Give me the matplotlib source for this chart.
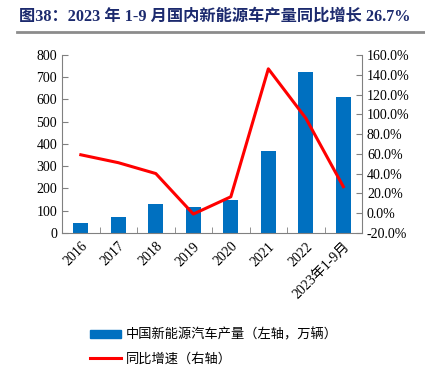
import numpy as np
import matplotlib
matplotlib.use("Agg")
import matplotlib.pyplot as plt
from matplotlib.lines import Line2D
from matplotlib.patches import Patch

# data
years = ["2016", "2017", "2018", "2019", "2020", "2021", "2022", "2023年1-9月"]
output = [45, 72, 130, 118, 147, 368, 722, 610]          # 万辆
growth = [59.0, 51.0, 40.0, -1.0, 16.5, 146.0, 96.0, 26.7]  # %

serif = ["Liberation Serif", "Noto Sans CJK SC"]
cjk = ["Noto Sans CJK SC", "DejaVu Sans"]

fig = plt.figure(figsize=(4.25, 3.69), dpi=100)

# title and rule under it
fig.text(0.045, 0.955, "图38：2023 年 1-9 月国内新能源车产量同比增长 26.7%",
         family=serif, fontsize=11.7, fontweight="bold", color="#1c2a6e",
         va="center", ha="left")
fig.add_artist(Line2D([0.04, 1.0], [0.913, 0.913], color="#8c8c8c", lw=2.0))

ax = fig.add_axes([0.146, 0.369, 0.706, 0.482])
x = np.arange(len(years))
ax.bar(x, output, width=0.4, color="#0070c0", zorder=2)
ax.set_xlim(-0.5, len(years) - 0.5)
ax.set_ylim(0, 800)
ax.set_yticks(np.arange(0, 801, 100))
ax.set_xticks(x)
ax.set_xticklabels(years, rotation=45, ha="right", rotation_mode="anchor",
                   family=serif, fontsize=10)
ax.set_xticks(np.arange(-0.5, len(years)), minor=True)
ax.tick_params(axis="x", which="major", length=0, pad=5)
ax.tick_params(axis="x", which="minor", direction="in", length=4, color="#808080")
ax.tick_params(axis="y", direction="in", length=4, color="#808080", labelsize=10)
for lbl in ax.get_yticklabels():
    lbl.set_family(serif)
for s in ["top", "right"]:
    ax.spines[s].set_visible(False)
for s in ["left", "bottom"]:
    ax.spines[s].set_color("#808080")

ax2 = ax.twinx()
ax2.plot(x, growth, color="#ff0000", lw=2.2, zorder=3)
ax2.set_ylim(-20, 160)
ax2.set_yticks(np.arange(-20, 161, 20))
ax2.set_yticklabels([f"{v:.1f}%" for v in np.arange(-20, 161, 20)],
                    family=serif, fontsize=10)
ax2.tick_params(axis="y", direction="in", length=4, color="#808080")
for s in ["top", "left", "bottom"]:
    ax2.spines[s].set_visible(False)
ax2.spines["right"].set_color("#808080")

handles = [Patch(color="#0070c0"), Line2D([], [], color="#ff0000", lw=2.2)]
labels = ["中国新能源汽车产量（左轴，万辆）", "同比增速（右轴）"]
fig.legend(handles, labels, loc="upper left", bbox_to_anchor=(0.2, 0.125),
           frameon=False, prop={"family": cjk, "size": 9.5},
           handlelength=2.3, handleheight=0.6, labelspacing=0.85,
           handletextpad=0.4, borderaxespad=0)

fig.savefig("out.png", dpi=100)
